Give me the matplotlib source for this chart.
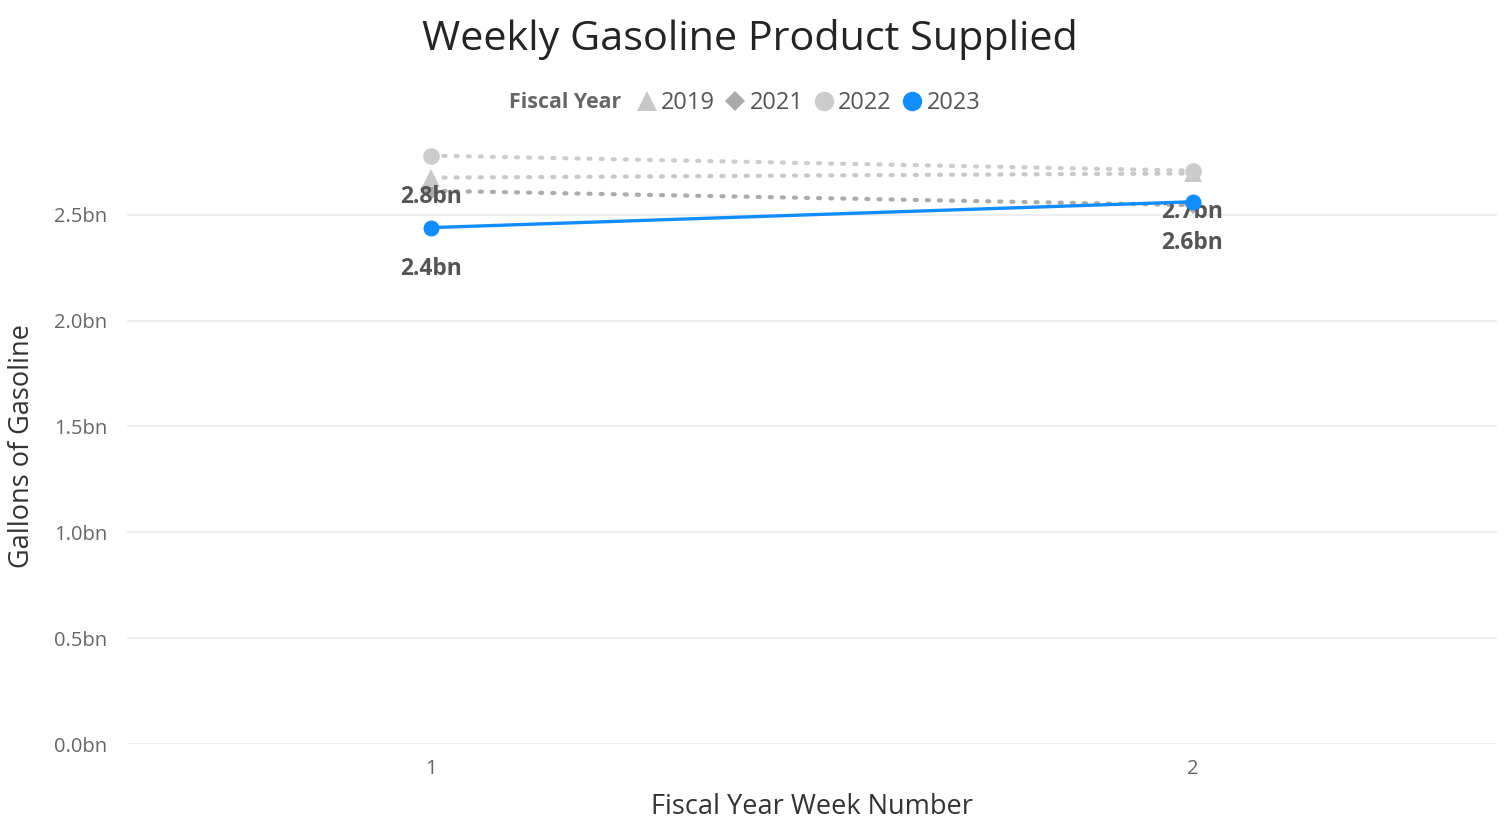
import matplotlib
matplotlib.use("Agg")
import matplotlib.pyplot as plt
from matplotlib.lines import Line2D

plt.rcParams['font.family'] = ['Open Sans', 'DejaVu Sans']

weeks = [1, 2]
years = ["2019", "2021", "2022", "2023"]
values = {
    "2019": [2.675, 2.695],
    "2021": [2.613, 2.545],
    "2022": [2.779, 2.708],
    "2023": [2.439, 2.561],
}
labeled = {"2022": ["2.8bn", "2.7bn"], "2023": ["2.4bn", "2.6bn"]}
yticks = [0.0, 0.5, 1.0, 1.5, 2.0, 2.5]
ytick_labels = ["0.0bn", "0.5bn", "1.0bn", "1.5bn", "2.0bn", "2.5bn"]

dots = (0, (0.5, 2.4))
styles = {
    "2019": dict(color="#c8c8c8", marker="^", ls=dots, lw=3.0, ms=13, z=3),
    "2021": dict(color="#ababab", marker="D", ls=dots, lw=3.0, ms=9, z=2),
    "2022": dict(color="#cccccc", marker="o", ls=dots, lw=3.0, ms=12, z=4),
    "2023": dict(color="#118DFF", marker="o", ls="-", lw=2.4, ms=11.5, z=6),
}

W, H = 1509, 821
fig = plt.figure(figsize=(W / 100, H / 100), dpi=100)
ax = fig.add_axes([127 / W, 1 - 744 / H, (1497 - 127) / W, (744 - 130) / H])

for y in years:
    s = styles[y]
    ax.plot(weeks, values[y], color=s["color"], linestyle=s["ls"], lw=s["lw"],
            marker=s["marker"], ms=s["ms"], dash_capstyle="round",
            solid_capstyle="round", zorder=s["z"], markeredgewidth=0)

for y, labs in labeled.items():
    for wk, v, t in zip(weeks, values[y], labs):
        ax.annotate(t, (wk, v), xytext=(0, -29.5), textcoords="offset points",
                    ha="center", va="center", fontsize=16.5, fontweight="bold",
                    color="#555555", zorder=5)

ax.set_xlim(0.6, 2.4)
ax.set_ylim(0, 2.9)
ax.set_xticks(weeks)
ax.set_xticklabels([str(w) for w in weeks])
ax.set_yticks(yticks)
ax.set_yticklabels(ytick_labels)
ax.tick_params(axis="both", length=0, labelsize=14.5, labelcolor="#666666")
ax.tick_params(axis="y", pad=14)
ax.tick_params(axis="x", pad=11)
for sp in ax.spines.values():
    sp.set_visible(False)
ax.grid(axis="y", color="#ebebeb", lw=1.2)
ax.set_axisbelow(True)

ax.set_xlabel("Fiscal Year Week Number", fontsize=19.5, color="#333333", labelpad=10)
fig.text(22 / W, 1 - 446 / H, "Gallons of Gasoline", rotation=90, ha="center",
         va="center", fontsize=19.5, color="#333333")

fig.text(750 / W, 1 - 39 / H, "Weekly Gasoline Product Supplied", ha="center",
         va="center", fontsize=29.8, color="#252423")

fig.text(509 / W, 1 - 103 / H, "Fiscal Year", ha="left", va="center",
         fontsize=15.4, fontweight="bold", color="#666666")
handles = [
    Line2D([], [], ls="none", marker="^", color="#c8c8c8", ms=14, markeredgewidth=0),
    Line2D([], [], ls="none", marker="D", color="#ababab", ms=10, markeredgewidth=0),
    Line2D([], [], ls="none", marker="o", color="#cccccc", ms=14, markeredgewidth=0),
    Line2D([], [], ls="none", marker="o", color="#118DFF", ms=14, markeredgewidth=0),
]
fig.legend(handles, years, loc="center left", bbox_to_anchor=(636 / W, 1 - 103 / H),
           ncol=4, frameon=False, fontsize=17, handlelength=0.9,
           handletextpad=0.15, columnspacing=0.42, borderpad=0, borderaxespad=0,
           labelcolor="#555555")

fig.savefig("out.png", dpi=100)
